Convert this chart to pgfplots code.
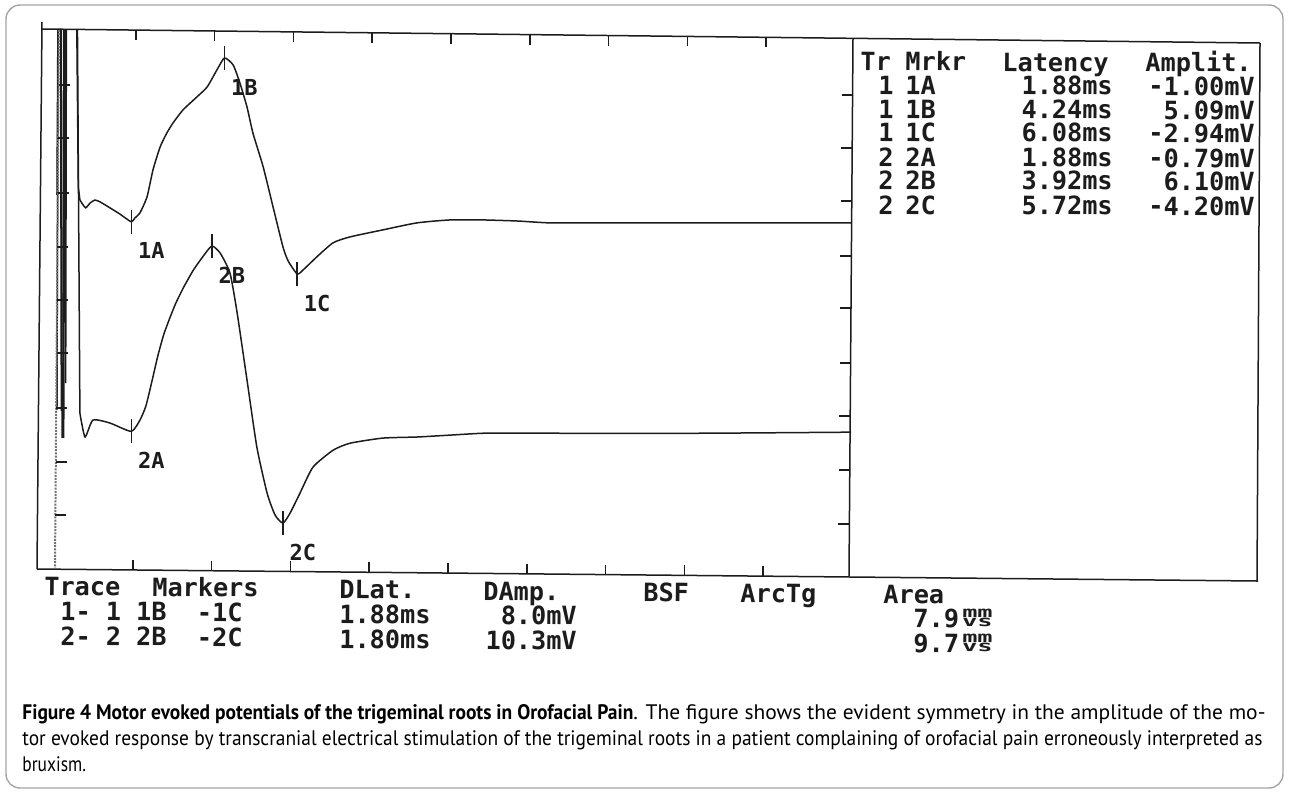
\documentclass[border=0pt]{standalone}
\usepackage{fontspec}
\usepackage{graphicx}
\usepackage{pgfplots}
\usepackage{pgfplotstable}
\pgfplotsset{compat=1.18}
\newfontfamily\scrfont{DejaVu Sans Mono}
\newfontfamily\capfont{PT Sans}
\definecolor{FrameGray}{RGB}{165,165,165}
\definecolor{Ink}{RGB}{28,28,28}

% trace 1 (offset 13.87 mV on screen), t in ms, amplitude in mV
\pgfplotstableread{
t mv
0.00 0.00
0.03 8
0.09 8
0.11 -8
0.15 -8
0.17 8
0.20 8
0.22 -7
0.24 8
0.49 8
0.54 0.30
0.58 -0.19
}\traceAart
\pgfplotstableread{
t mv
0.58 -0.19
0.66 -0.37
0.73 -0.48
0.84 -0.30
0.96 -0.19
1.09 -0.26
1.34 -0.48
1.59 -0.71
1.88 -1.00
1.97 -0.86
2.10 -0.67
2.28 -0.07
2.43 0.93
2.61 1.78
2.78 2.30
2.94 2.68
3.19 3.16
3.54 3.64
3.80 4.01
4.05 4.65
4.24 5.09
4.46 4.83
4.63 4.16
4.81 3.27
4.96 2.30
5.22 1.04
5.47 -0.45
5.72 -1.93
5.85 -2.45
6.08 -2.94
6.23 -2.79
6.58 -2.30
6.99 -1.78
7.42 -1.56
8.25 -1.30
9.11 -1.04
9.95 -0.93
10.78 -0.93
11.65 -0.97
12.48 -1.04
13.75 -1.04
16.28 -1.04
20.10 -1.04
}\traceA
% trace 2 (offset 5.87 mV on screen)
\pgfplotstableread{
t mv
0.00 0.00
0.03 16
0.10 16
0.13 -1.0
0.17 -1.0
0.20 16
0.51 16
0.58 -0.11
}\traceBart
\pgfplotstableread{
t mv
0.58 -0.11
0.71 -1.00
0.91 -0.37
1.34 -0.48
1.88 -0.79
2.10 -0.37
2.25 0.15
2.40 1.05
2.55 2.00
2.70 2.80
2.85 3.40
3.00 3.95
3.20 4.55
3.45 5.20
3.70 5.72
3.92 6.10
4.13 5.84
4.38 5.09
4.56 3.62
4.81 1.12
5.06 -1.38
5.32 -3.09
5.52 -3.90
5.72 -4.20
5.90 -3.83
6.15 -3.09
6.48 -2.12
6.99 -1.49
7.42 -1.23
8.25 -1.04
9.11 -1.00
9.95 -0.93
10.78 -0.86
11.65 -0.86
12.48 -0.86
16.28 -0.86
20.10 -0.82
}\traceB
\pgfplotstableread{
t mv lab
1.88 -1.00 1A
4.24 5.09 1B
6.08 -2.94 1C
}\markA
\pgfplotstableread{
t mv lab
1.88 -0.79 2A
3.92 6.10 2B
5.72 -4.20 2C
}\markB

\tikzset{
  scr/.style={font=\scrfont\bfseries\fontsize{12.6}{15}\selectfont, inner sep=0pt, text=Ink, rotate=-0.56},
  unit/.style={inner sep=0pt, text=Ink, yscale=0.6, rotate=-0.56, transform shape, align=left,
    font=\scrfont\bfseries\fontsize{12.6}{7.5}\selectfont, anchor=north west},
  frm/.style={draw=Ink, line width=0.75pt},
  captext/.style={anchor=base west, inner sep=0pt, font=\capfont\fontsize{10.5}{13}\selectfont},
}

\begin{document}
\begin{tikzpicture}
\begin{scope}[x=0.5pt,y=-0.5pt]
\useasboundingbox (0,0) rectangle (1289,794);
\draw[FrameGray, line width=0.7pt, rounded corners=7pt] (6,5) rectangle (1283,788);
\end{scope}

\begin{axis}[
  at={(20pt,-284pt)}, anchor=south west,
  scale only axis, width=405.5pt, height=269pt,
  xmin=-0.43, xmax=20.10, ymin=0, ymax=20,
  axis line style={draw=none}, ticks=none,
  clip=true,
  every axis plot/.append style={Ink, line width=0.75pt},
  every node near coord/.append style={font=\scrfont\bfseries\fontsize{11}{13}\selectfont, text=Ink, anchor=center, xshift=10pt, yshift=-14.5pt},
]
\addplot[mark=none] table[x=t, y expr=\thisrow{mv}+13.87] {\traceAart};
\addplot[mark=none, smooth, tension=0.35] table[x=t, y expr=\thisrow{mv}+13.87] {\traceA};
\addplot[mark=none] table[x=t, y expr=\thisrow{mv}+5.87] {\traceBart};
\addplot[mark=none, smooth, tension=0.35] table[x=t, y expr=\thisrow{mv}+5.87] {\traceB};
\addplot[only marks, mark=|, mark size=6pt, nodes near coords, point meta=explicit symbolic]
  table[x=t, y expr=\thisrow{mv}+13.87, meta=lab] {\markA};
\addplot[only marks, mark=|, mark size=6pt, nodes near coords, point meta=explicit symbolic]
  table[x=t, y expr=\thisrow{mv}+5.87, meta=lab] {\markB};
\end{axis}

\begin{scope}[x=0.5pt,y=-0.5pt]
% screen frame (scan is slightly tilted)
\draw[frm] (42,22) -- (37,569);
\draw[frm] (42,29) -- (1260,43);
\draw[frm] (37,569) -- (1258,581);
\draw[frm] (853,38) -- (849,576);
\draw[frm] (1260,43) -- (1257,581);
\draw[black!55, line width=1pt, dash pattern=on 1pt off 0.6pt] (59,30) -- (55,568);
\foreach \y in {85,138,193,247,300,353,408,462,515} {
  \pgfmathsetmacro\xx{59-0.0074*(\y-30)}
  \draw[frm] (\xx,\y) -- ++(11,0);
}
\foreach \y in {95,148,201,256,308,363,416,470,524} {
  \pgfmathsetmacro\xx{853-0.0074*(\y-38)}
  \draw[frm] (\xx,\y) -- ++(-11,0);
}
\foreach \k in {1,...,9} {
  \pgfmathsetmacro\xx{57+78.8*\k}
  \pgfmathsetmacro\yy{29+0.0115*(\xx-42)}
  \draw[frm] (\xx,\yy) -- ++(0,10);
  \pgfmathsetmacro\xb{54+78.8*\k}
  \pgfmathsetmacro\yb{569+0.0098*(\xb-37)}
  \draw[frm] (\xb,\yb) -- ++(0,-10);
}

% marker table
\node[scr, anchor=base west] at (860,70) {Tr};
\node[scr, anchor=base west] at (905,70) {Mrkr};
\node[scr, anchor=base west] at (1002,71) {Latency};
\node[scr, anchor=base west] at (1145,71) {Amplit.};
\foreach \tr/\mk/\lat/\amp/\yy in {1/1A/1.88ms/-1.00mV/94, 1/1B/4.24ms/5.09mV/118, 1/1C/6.08ms/-2.94mV/141,
  2/2A/1.88ms/-0.79mV/166, 2/2B/3.92ms/6.10mV/189, 2/2C/5.72ms/-4.20mV/214} {
  \node[scr, anchor=base west] at (878,\yy) {\tr};
  \node[scr, anchor=base west] at (905,\yy) {\mk};
  \node[scr, anchor=base east] at (1113,\yy+1) {\lat};
  \node[scr, anchor=base east] at (1255,\yy+2) {\amp};
}

% bottom read-out
\node[scr, anchor=base west] at (44,595) {Trace};
\node[scr, anchor=base west] at (152,596) {Markers};
\node[scr, anchor=base west] at (339,598) {DLat.};
\node[scr, anchor=base west] at (483,600) {DAmp.};
\node[scr, anchor=base west] at (643,601) {BSF};
\node[scr, anchor=base west] at (740,602) {ArcTg};
\node[scr, anchor=base west] at (883,603) {Area};
\node[scr, anchor=base west] at (60,620) {1-~1~1B~~-1C};
\node[scr, anchor=base west] at (60,645) {2-~2~2B~~-2C};
\node[scr, anchor=base west] at (339,623) {1.88ms};
\node[scr, anchor=base west] at (339,648) {1.80ms};
\node[scr, anchor=base east] at (577,625) {8.0mV};
\node[scr, anchor=base east] at (577,650) {10.3mV};
\node[scr, anchor=base west] at (913,627) {7.9};
\node[scr, anchor=base west] at (913,652) {9.7};
\node[unit] at (962,609) {mm\\vs};
\node[unit] at (962,634) {mm\\vs};

% caption
\node[captext] at (22,719)
  {\resizebox{305.5pt}{\height}{\textbf{Figure 4 Motor evoked potentials of the trigeminal roots in Orofacial Pain}}\resizebox{316pt}{\height}{. The figure shows the evident symmetry in the amplitude of the mo-}};
\node[captext] at (22,745)
  {\resizebox{620pt}{\height}{tor evoked response by transcranial electrical stimulation of the trigeminal roots in a patient complaining of orofacial pain erroneously interpreted as}};
\node[captext] at (22,771)
  {\scalebox{0.83}[1]{bruxism.}};
\end{scope}
\end{tikzpicture}
\end{document}
